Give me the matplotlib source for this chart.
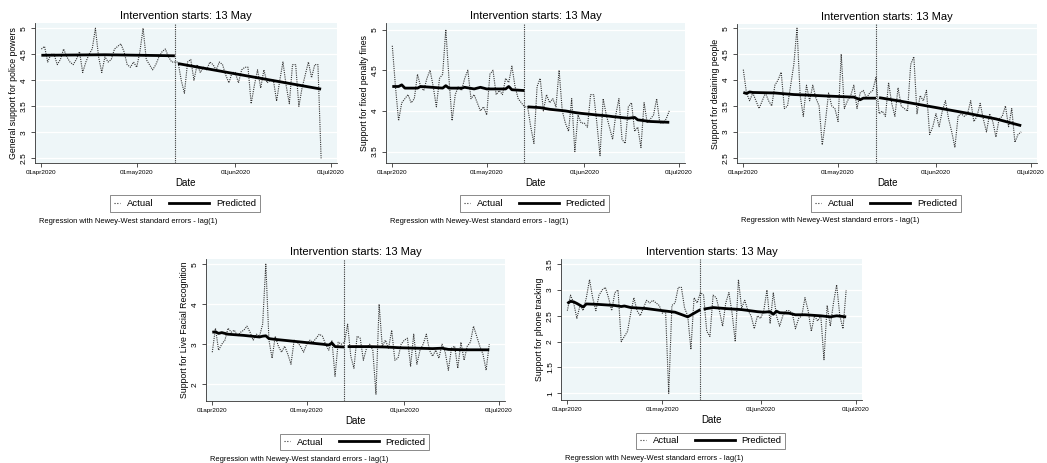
import numpy as np
import matplotlib
matplotlib.use("Agg")
import matplotlib.pyplot as plt
from matplotlib.lines import Line2D
from matplotlib.legend_handler import HandlerLine2D

plt.rcParams['font.family'] = ['Liberation Sans', 'DejaVu Sans']

# daily dates, 01apr2020 .. 28jun2020
dates = np.arange(np.datetime64('2020-04-01'), np.datetime64('2020-06-29'))
intervention = np.datetime64('2020-05-13')
tick_dates = np.array(['2020-04-01', '2020-05-01', '2020-06-01', '2020-07-01'], dtype='datetime64[D]')
tick_labels = ['01apr2020', '01may2020', '01jun2020', '01jul2020']

police_actual = [4.6, 4.65, 4.35, 4.5, 4.5, 4.3, 4.4, 4.6, 4.45, 4.35,
                 4.3, 4.4, 4.55, 4.15, 4.35, 4.5, 4.6, 5.0, 4.45, 4.15,
                 4.45, 4.35, 4.4, 4.6, 4.65, 4.7, 4.55, 4.3, 4.25, 4.35,
                 4.25, 4.55, 5.0, 4.4, 4.3, 4.2, 4.3, 4.45, 4.55, 4.6,
                 4.45, 4.35, 4.35, 4.35, 4.0, 3.75, 4.35, 4.4, 4.0, 4.3,
                 4.15, 4.25, 4.2, 4.35, 4.3, 4.2, 4.35, 4.3, 4.1, 3.95,
                 4.15, 4.15, 3.95, 4.2, 4.25, 4.25, 3.55, 3.9, 4.2, 3.85,
                 4.2, 3.95, 4.0, 4.0, 3.6, 4.0, 4.35, 3.9, 3.55, 4.3,
                 4.3, 3.5, 3.85, 4.1, 4.35, 4.05, 4.3, 4.3, 2.5]
police_pre_days = [0, 20, 42]
police_pre = [4.48, 4.49, 4.47]
police_post_days = [43, 88]
police_post = [4.32, 3.83]

fines_actual = [4.8, 4.3, 3.88, 4.1, 4.15, 4.2, 4.1, 4.15, 4.45, 4.3,
                4.25, 4.4, 4.5, 4.3, 4.05, 4.4, 4.45, 5.0, 4.4, 3.88,
                4.2, 4.3, 4.25, 4.4, 4.5, 4.15, 4.2, 4.1, 4.0, 4.05,
                3.95, 4.45, 4.5, 4.2, 4.25, 4.2, 4.4, 4.35, 4.55, 4.3,
                4.15, 4.1, 4.05, 4.05, 3.8, 3.6, 4.3, 4.4, 4.0, 4.2,
                4.1, 4.15, 4.05, 4.5, 4.0, 3.85, 3.75, 4.15, 3.5, 3.95,
                3.85, 3.85, 3.8, 4.2, 4.2, 3.85, 3.45, 4.15, 3.95, 3.8,
                3.65, 3.95, 4.15, 3.65, 3.6, 4.05, 4.1, 3.75, 3.8, 3.55,
                4.1, 3.85, 3.9, 3.95, 4.15, 3.85, 3.85, 3.9, 4.0]
fines_pre_days = [0, 2, 3, 4, 8, 9, 16, 17, 18, 22, 23, 26, 28, 30, 36, 37, 38, 42]
fines_pre = [4.30, 4.30, 4.32, 4.28, 4.28, 4.30, 4.28, 4.31, 4.28, 4.28,
             4.29, 4.27, 4.29, 4.27, 4.27, 4.30, 4.26, 4.25]
fines_post_days = [43, 47, 50, 55, 58, 60, 65, 68, 70, 75, 77, 78, 82, 88]
fines_post = [4.05, 4.04, 4.02, 4.00, 3.98, 3.97, 3.95, 3.94, 3.93, 3.91,
              3.92, 3.89, 3.87, 3.86]

detain_actual = [4.2, 3.75, 3.6, 3.75, 3.6, 3.45, 3.6, 3.75, 3.6, 3.5,
                 3.9, 4.0, 4.15, 3.45, 3.5, 3.9, 4.3, 5.0, 3.7, 3.3,
                 3.9, 3.6, 3.9, 3.65, 3.5, 2.75, 3.2, 3.75, 3.5, 3.45,
                 3.2, 4.5, 3.45, 3.6, 3.7, 3.9, 3.45, 3.75, 3.8, 3.65,
                 3.75, 3.8, 4.05, 3.35, 3.4, 3.3, 3.95, 3.55, 3.3, 3.85,
                 3.5, 3.45, 3.4, 4.3, 4.45, 3.35, 3.7, 3.6, 3.8, 2.95,
                 3.1, 3.35, 3.1, 3.4, 3.6, 3.25, 3.0, 2.7, 3.3, 3.35,
                 3.3, 3.35, 3.6, 3.2, 3.3, 3.55, 3.25, 3.0, 3.35, 3.2,
                 2.9, 3.25, 3.3, 3.5, 3.1, 3.45, 2.8, 2.95, 3.0]
detain_pre_days = [0, 1, 2, 3, 10, 16, 20, 27, 35, 37, 38, 42]
detain_pre = [3.76, 3.74, 3.77, 3.76, 3.75, 3.72, 3.71, 3.69, 3.67, 3.62, 3.65, 3.65]
detain_post_days = [43, 50, 60, 70, 80, 88]
detain_post = [3.66, 3.59, 3.48, 3.37, 3.25, 3.12]

lfr_actual = [2.8, 3.4, 2.85, 3.0, 3.1, 3.4, 3.3, 3.35, 3.2, 3.3,
              3.35, 3.45, 3.3, 3.1, 3.25, 3.2, 3.5, 5.0, 3.1, 2.65,
              3.2, 2.95, 2.8, 2.95, 2.75, 2.5, 3.1, 3.05, 2.95, 2.8,
              3.0, 3.1, 3.05, 3.15, 3.25, 3.2, 3.0, 2.85, 3.1, 2.2,
              3.05, 3.0, 3.05, 3.5, 2.7, 2.4, 3.2, 3.15, 2.6, 2.9,
              3.0, 2.85, 1.75, 4.0, 2.95, 3.1, 2.9, 3.35, 2.6, 2.65,
              3.0, 3.1, 3.15, 2.45, 3.25, 2.5, 2.85, 3.0, 3.25, 2.85,
              2.7, 2.85, 2.65, 3.0, 2.8, 2.35, 2.9, 2.95, 2.4, 3.05,
              2.6, 2.95, 3.05, 3.45, 3.2, 2.95, 2.75, 2.35, 3.0]
lfr_pre_days = [0, 1, 2, 3, 5, 10, 15, 16, 17, 18, 20, 25, 30, 35, 37, 38, 39, 42]
lfr_pre = [3.30, 3.31, 3.27, 3.29, 3.25, 3.22, 3.18, 3.20, 3.21, 3.14,
           3.12, 3.08, 3.04, 3.00, 2.98, 3.03, 2.94, 2.93]
lfr_post_days = [43, 50, 55, 60, 70, 73, 75, 80, 88]
lfr_post = [2.94, 2.94, 2.93, 2.91, 2.89, 2.90, 2.87, 2.86, 2.86]

phone_actual = [2.6, 2.9, 2.75, 2.45, 2.7, 2.6, 2.85, 3.2, 2.85, 2.6,
                2.9, 3.0, 3.05, 2.85, 2.6, 2.95, 3.0, 2.0, 2.1, 2.2,
                2.55, 2.85, 2.6, 2.5, 2.65, 2.8, 2.75, 2.8, 2.75, 2.7,
                2.55, 2.6, 1.0, 2.7, 2.75, 3.05, 3.05, 2.65, 2.5, 1.85,
                2.85, 2.75, 2.95, 2.9, 2.2, 2.1, 2.9, 2.85, 2.6, 2.3,
                2.75, 2.95, 2.55, 2.0, 3.2, 2.65, 2.8, 2.6, 2.5, 2.25,
                2.5, 2.45, 2.6, 3.0, 2.35, 2.95, 2.5, 2.3, 2.5, 2.6,
                2.6, 2.55, 2.25, 2.45, 2.5, 2.85, 2.6, 2.2, 2.5, 2.4,
                2.5, 1.65, 2.7, 2.3, 2.75, 3.1, 2.5, 2.25, 3.0]
phone_pre_days = [0, 1, 2, 3, 5, 6, 10, 15, 17, 18, 20, 25, 30, 34, 38, 40, 42]
phone_pre = [2.74, 2.78, 2.77, 2.74, 2.67, 2.73, 2.72, 2.70, 2.68, 2.69,
             2.66, 2.64, 2.60, 2.57, 2.48, 2.55, 2.62]
phone_post_days = [43, 46, 50, 55, 60, 62, 64, 65, 66, 67, 70, 72, 75, 80, 83, 85, 88]
phone_post = [2.63, 2.66, 2.64, 2.62, 2.58, 2.57, 2.58, 2.53, 2.59, 2.56,
              2.55, 2.52, 2.52, 2.50, 2.48, 2.50, 2.48]

panels = [
    ("General support for police powers", police_actual, police_pre_days, police_pre,
     police_post_days, police_post, [2.5, 3, 3.5, 4, 4.5, 5], ['2.5', '3', '3.5', '4', '4.5', '5'], (2.41, 5.10)),
    ("Support for fixed penalty fines", fines_actual, fines_pre_days, fines_pre,
     fines_post_days, fines_post, [3.5, 4, 4.5, 5], ['3.5', '4', '4.5', '5'], (3.36, 5.08)),
    ("Support for detaining people", detain_actual, detain_pre_days, detain_pre,
     detain_post_days, detain_post, [2.5, 3, 3.5, 4, 4.5, 5], ['2.5', '3', '3.5', '4', '4.5', '5'], (2.40, 5.08)),
    ("Support for Live Facial Recognition", lfr_actual, lfr_pre_days, lfr_pre,
     lfr_post_days, lfr_post, [2, 3, 4, 5], ['2', '3', '4', '5'], (1.58, 5.13)),
    ("Support for phone tracking", phone_actual, phone_pre_days, phone_pre,
     phone_post_days, phone_post, [1, 1.5, 2, 2.5, 3, 3.5], ['1', '1.5', '2', '2.5', '3', '3.5'], (0.87, 3.60)),
]

# plot regions in pixels: left, top, right, bottom
boxes = [(35, 23, 337, 163), (386, 23, 685, 163), (737, 24, 1037, 163),
         (206, 259, 505, 401), (561, 259, 862, 400)]

W, H = 1047, 463


class LongKey(HandlerLine2D):
    # the Predicted key is longer than the Actual one, so stretch it to the left
    def __init__(self, length_pt, **kw):
        super().__init__(**kw)
        self.length_pt = length_pt

    def create_artists(self, legend, orig_handle, xdescent, ydescent,
                       width, height, fontsize, trans):
        arts = super().create_artists(legend, orig_handle, xdescent, ydescent,
                                      width, height, fontsize, trans)
        for a in arts:
            if isinstance(a, Line2D):
                xd = np.asarray(a.get_xdata(), dtype=float)
                yd = np.asarray(a.get_ydata(), dtype=float)
                a.set_data([xd[-1] - self.length_pt, xd[-1]], [yd[0], yd[0]])
        return arts


fig = plt.figure(figsize=(W / 100, H / 100), dpi=100)
bg = '#EEF6F8'

for (ylab, act, pre_d, pre_v, post_d, post_v, yt, ytl, ylim), (l, t, r, b) in zip(panels, boxes):
    ax = fig.add_axes([l / W, 1 - b / H, (r - l) / W, (b - t) / H])
    ax.set_facecolor(bg)
    for yv in yt:
        ax.axhline(yv, color='white', lw=0.9, zorder=0)
    ax.plot(dates, act, color='#333333', lw=0.8, ls=(0, (1, 1)), zorder=2)
    ax.plot(dates[pre_d], pre_v, color='black', lw=2.0, zorder=3, solid_capstyle='butt')
    ax.plot(dates[post_d], post_v, color='black', lw=2.0, zorder=3, solid_capstyle='butt')
    ax.axvline(intervention, color='#333333', lw=0.8, ls=(0, (1, 1)), zorder=2)
    ax.set_xlim(np.datetime64('2020-03-30'), np.datetime64('2020-07-03'))
    ax.set_ylim(*ylim)
    ax.set_xticks(tick_dates)
    ax.set_xticklabels(tick_labels, fontsize=4.6)
    ax.set_yticks(yt)
    ax.set_yticklabels(ytl, fontsize=6, rotation=90, va='center')
    ax.tick_params(axis='both', length=3, width=0.6, color='#333333', pad=2)
    for s in ['top', 'right']:
        ax.spines[s].set_visible(False)
    for s in ['left', 'bottom']:
        ax.spines[s].set_linewidth(0.6)
        ax.spines[s].set_color('#333333')
    ax.set_title("Intervention starts: 13 May", fontsize=8, pad=3)
    ax.set_ylabel(ylab, fontsize=6.3, labelpad=2)
    ax.set_xlabel("Date", fontsize=7, labelpad=2)
    h_act = Line2D([], [], color='#333333', lw=0.8, ls=(0, (1, 1.5)))
    h_pred = Line2D([], [], color='black', lw=2.0)
    leg = ax.legend([h_act, h_pred], ['Actual', 'Predicted'], loc='center',
                    bbox_to_anchor=(0.497, -0.29), ncol=2, fontsize=6.8,
                    frameon=True, fancybox=False, edgecolor='#555555',
                    handlelength=0.65, handletextpad=0.75, columnspacing=5.2,
                    borderpad=0.4, handler_map={h_pred: LongKey(28.8)})
    leg.get_frame().set_linewidth(0.6)
    ax.text(0.013, -0.415, "Regression with Newey-West standard errors - lag(1)",
            transform=ax.transAxes, fontsize=5.4, va='center', ha='left')

fig.savefig("out.png", dpi=100, facecolor='white')
